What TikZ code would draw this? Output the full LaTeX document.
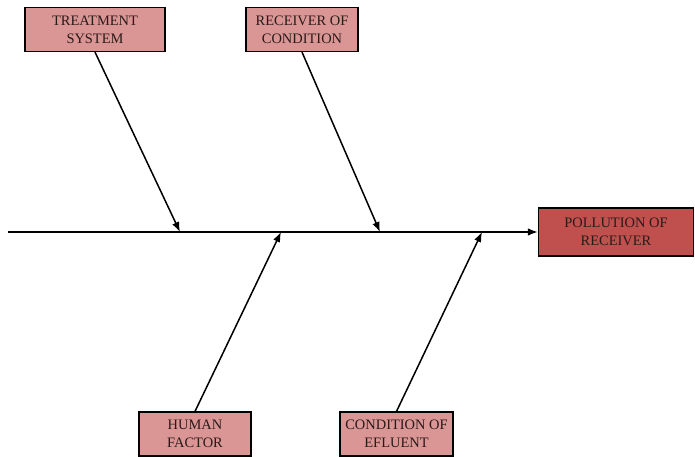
\documentclass[tikz,border=0pt]{standalone}
\usepackage{fontspec}
\setmainfont{Liberation Serif}
\usepackage{xcolor}
\usetikzlibrary{arrows.meta}

\definecolor{causefill}{HTML}{D99694}
\definecolor{effectfill}{HTML}{C0504D}
\definecolor{boxtext}{HTML}{2B1A1A}

\begin{document}
\begin{tikzpicture}[
  x=1bp, y=-1bp,
  cause/.style={draw, line width=1.2bp, fill=causefill, align=center, text=boxtext,
    font=\fontsize{14.5}{18}\selectfont, minimum height=44bp, inner sep=2bp},
  effect/.style={cause, fill=effectfill, minimum height=48bp},
  arrow/.style={-{Latex[length=10bp,width=7.5bp]}, line width=1.5bp}
]
\useasboundingbox (0,0) rectangle (695,457);

% causes above the spine
\node[cause, minimum width=140bp] (treat) at (95,29.5) {TREATMENT\\SYSTEM};
\node[cause, minimum width=112bp] (recv) at (302,29.5) {RECEIVER OF\\CONDITION};

% causes below the spine
\node[cause, minimum width=112bp] (human) at (195,434) {HUMAN\\FACTOR};
\node[cause, minimum width=113bp] (cond) at (396.5,434) {CONDITION OF\\EFLUENT};

% effect
\node[effect, minimum width=155bp] (poll) at (616,232) {POLLUTION OF\\RECEIVER};

% spine and where the bones meet it
\coordinate (tail) at (8,232);
\coordinate (j1) at (180,232);
\coordinate (j2) at (281,232);
\coordinate (j3) at (380,232);
\coordinate (j4) at (482,232);

\draw[arrow] (tail) -- (poll.west);
\draw[arrow] (treat.south) -- (j1);
\draw[arrow] (recv.south) -- (j3);
\draw[arrow] (human.north) -- (j2);
\draw[arrow] (cond.north) -- (j4);
\end{tikzpicture}
\end{document}
